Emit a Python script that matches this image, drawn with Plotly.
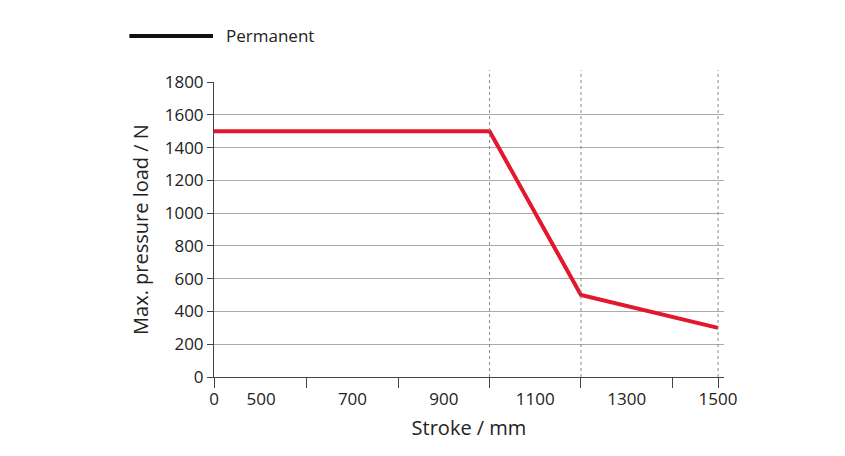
import plotly.graph_objects as go

# stroke (mm) vs max pressure load (N)
stroke = [0, 1000, 1200, 1500]
load = [1500, 1500, 500, 300]
x_labels = [0, 500, 700, 900, 1100, 1300, 1500]
x_marks = [0, 600, 800, 1000, 1200, 1400, 1500]
dashed_at = [1000, 1200, 1500]
y_ticks = [0, 200, 400, 600, 800, 1000, 1200, 1400, 1600, 1800]

BREAK = 397  # axis is broken between 0 and 500: 0 sits at this position


def pos(v):
    return BREAK if v == 0 else v


FONT = "Open Sans"
fig = go.Figure()
fig.add_trace(go.Scatter(x=[pos(v) for v in stroke], y=load, mode="lines",
                         line=dict(color="#e3172d", width=4), showlegend=False))
fig.add_trace(go.Scatter(x=[pos(v) for v in stroke], y=load, xaxis="x2",
                         mode="lines", line=dict(width=0), showlegend=False,
                         hoverinfo="skip"))

for v in dashed_at:
    fig.add_shape(type="line", x0=v, x1=v, y0=0, y1=1.04, xref="x", yref="paper",
                  line=dict(color="#888", width=1, dash="dot"))

# legend drawn by hand (long line sample)
fig.add_shape(type="line", xref="paper", yref="paper", x0=-0.166, x1=-0.002,
              y0=1.156, y1=1.156, line=dict(color="#111", width=4))
fig.add_annotation(xref="paper", yref="paper", x=0.02, y=1.156, text="Permanent",
                   showarrow=False, xanchor="left", yanchor="middle",
                   font=dict(size=17))

rng = [BREAK, 1513]
fig.update_layout(
    width=845, height=456, plot_bgcolor="white", paper_bgcolor="white",
    margin=dict(l=206, r=129, t=74, b=87, autoexpand=False),
    font=dict(family=FONT, size=17, color="#222"),
    showlegend=False,
    xaxis=dict(range=rng, tickvals=[pos(v) for v in x_marks],
               ticktext=[""] * len(x_marks), ticks="outside", ticklen=10,
               tickcolor="#444", showgrid=False, showline=True,
               linecolor="#444", zeroline=False,
               title=dict(text="Stroke / mm", standoff=30)),
    xaxis2=dict(range=rng, overlaying="x", side="bottom", anchor="y",
                tickvals=[pos(v) for v in x_labels],
                ticktext=[str(v) for v in x_labels], ticks="",
                ticklabelstandoff=10,
                showgrid=False, showline=False, zeroline=False),
    yaxis=dict(range=[0, 1800], tickvals=y_ticks, ticks="outside", ticklen=6,
               tickcolor="#444", showgrid=True, gridcolor="#aaa", gridwidth=1,
               showline=True, linecolor="#444", zeroline=False,
               title=dict(text="Max. pressure load / N", standoff=10)),
)
fig.write_html("out.html")
